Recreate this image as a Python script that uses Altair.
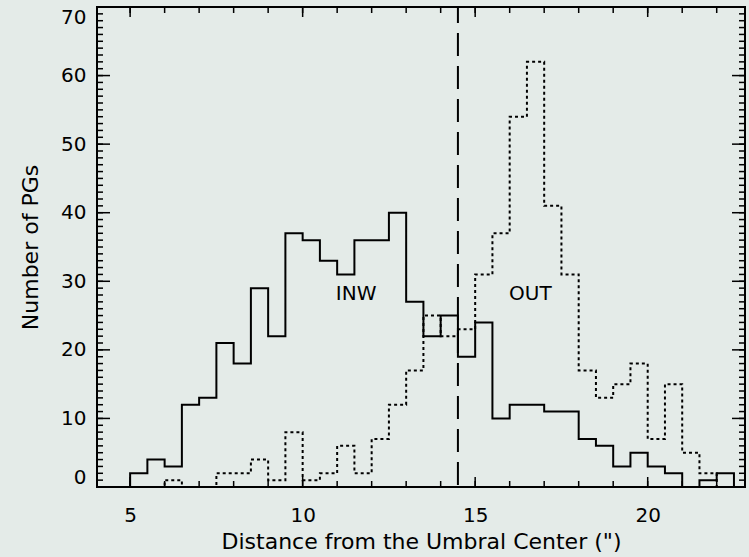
import altair as alt
import pandas as pd

# ---- data ----
bin_start = 5.0
bin_width = 0.5
inw_counts = [2, 4, 3, 12, 13, 21, 18, 29, 22, 37, 36, 33, 31, 36, 36, 40, 27, 22,
              25, 19, 24, 10, 12, 12, 11, 11, 7, 6, 3, 5, 3, 2, 0, 1, 2]
out_counts = [0, 0, 1, 0, 0, 2, 2, 4, 1, 8, 1, 2, 6, 2, 7, 12, 17, 25, 22, 23,
              31, 37, 54, 62, 41, 31, 17, 13, 15, 18, 7, 15, 5, 2, 0]
divider = [14.5]
x_ticks_major = [5, 10, 15, 20]
x_ticks_minor = list(range(5, 23))
y_ticks_major = [0, 10, 20, 30, 40, 50, 60, 70]
y_ticks_minor = list(range(1, 70))
labels = ["INW", "OUT"]
label_x = [11.55, 16.6]
label_y = [28.2, 28.2]

W, H = 648, 480
FONT = "DejaVu Sans"


def steps(counts, name):
    rows = [{"x": bin_start, "y": 0, "i": 0, "s": name}]
    for k, c in enumerate(counts):
        rows.append({"x": bin_start + k * bin_width, "y": c, "i": k + 1, "s": name})
    rows.append({"x": bin_start + len(counts) * bin_width, "y": 0,
                 "i": len(counts) + 1, "s": name})
    return pd.DataFrame(rows)


inw_df = steps(inw_counts, "INW")
out_df = steps(out_counts, "OUT")

xscale = alt.Scale(domain=[4.04, 22.82], nice=False, zero=False)
yscale = alt.Scale(domain=[0, 70], nice=False)

xaxis = alt.Axis(values=x_ticks_major, ticks=False, domain=False, grid=False,
                 labelFont=FONT, labelFontSize=20, labelColor="black",
                 labelPadding=34, labelBaseline="alphabetic",
                 title='Distance from the Umbral Center (")',
                 titleFont=FONT, titleFontSize=22, titleFontWeight="normal",
                 titleColor="black", titleBaseline="alphabetic", titleY=61,
                 labelFlush=False)
yaxis = alt.Axis(values=y_ticks_major, ticks=False, domain=False, grid=False,
                 labelFont=FONT, labelFontSize=20, labelColor="black",
                 labelPadding=11, labelFlush=True,
                 title="Number of PGs", titleFont=FONT, titleFontSize=22,
                 titleFontWeight="normal", titleColor="black",
                 titleAngle=270, titleX=-55, titleY=H / 2,
                 titleBaseline="bottom", titleAlign="center")

X = alt.X("x:Q", scale=xscale, axis=xaxis)
Y = alt.Y("y:Q", scale=yscale, axis=yaxis)

solid = alt.Chart(inw_df).mark_line(interpolate="step-after", color="black",
                                    strokeWidth=2).encode(
    x=X, y=Y, order=alt.Order("i:Q"))

dotted = alt.Chart(out_df).mark_line(interpolate="step-after", color="black",
                                     strokeWidth=2, strokeDash=[3, 3]).encode(
    x=X, y=Y, order=alt.Order("i:Q"))

div = alt.Chart(pd.DataFrame({"x": divider})).mark_rule(
    color="black", strokeWidth=2, strokeDash=[23, 10], strokeDashOffset=7).encode(
    x=X, y=alt.value(0), y2=alt.value(H))

text = alt.Chart(pd.DataFrame({"x": label_x, "y": label_y, "t": labels})).mark_text(
    font=FONT, fontSize=20, color="black", baseline="middle", align="center").encode(
    x=X, y=Y, text="t:N")

xmin_df = pd.DataFrame({"x": x_ticks_minor})
xmaj_df = pd.DataFrame({"x": x_ticks_major})
ymin_df = pd.DataFrame({"y": y_ticks_minor})
ymaj_df = pd.DataFrame({"y": y_ticks_major[1:-1]})


def xt(df, y0, y1):
    return alt.Chart(df).mark_rule(color="black", strokeWidth=1.5).encode(
        x=X, y=alt.value(y0), y2=alt.value(y1))


def yt(df, x0, x1):
    return alt.Chart(df).mark_rule(color="black", strokeWidth=1.5).encode(
        y=Y, x=alt.value(x0), x2=alt.value(x1))


ticks = [
    xt(xmin_df, H, H - 6), xt(xmaj_df, H, H - 10),
    xt(xmin_df, 0, 6), xt(xmaj_df, 0, 10),
    yt(ymin_df, 0, 6), yt(ymaj_df, 0, 13),
    yt(ymin_df, W, W - 6), yt(ymaj_df, W, W - 13),
]

chart = alt.layer(solid, dotted, div, text, *ticks).properties(
    width=W, height=H,
    autosize=alt.AutoSizeParams(type="none"),
    padding={"left": 97, "top": 7, "right": 4, "bottom": 70},
    background="#e4ebe8",
).configure_view(stroke="black", strokeWidth=2)

chart.save("out.html", embed_options={"renderer": "svg", "actions": False})
